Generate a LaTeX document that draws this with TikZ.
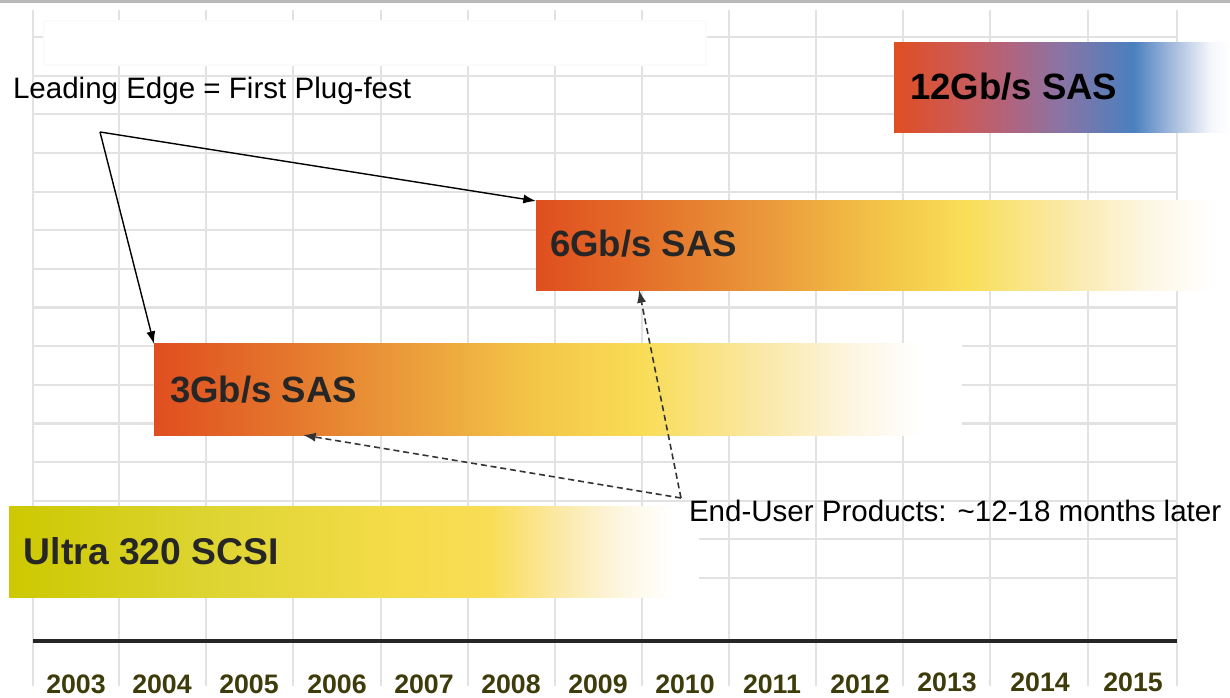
\documentclass[tikz,border=0pt]{standalone}
\usepackage{fontspec}
\setmainfont{Liberation Sans}
\usetikzlibrary{arrows.meta}

\definecolor{gridgray}{HTML}{E2E2E2}
\definecolor{topgray}{HTML}{B9B9B9}
\definecolor{yeartext}{HTML}{3F3C0C}
\definecolor{labeltext}{HTML}{262626}

% colour ramps of the bars (the bar spans 25bp..75bp)
\pgfdeclarehorizontalshading{twelvegb}{100bp}{color(0bp)=(rgb,255:red,224;green,78;blue,34);
  color(25bp)=(rgb,255:red,224;green,78;blue,34); color(34.8bp)=(rgb,255:red,204;green,90;blue,85);
  color(42.3bp)=(rgb,255:red,176;green,100;blue,126); color(49.7bp)=(rgb,255:red,138;green,116;blue,164);
  color(60.6bp)=(rgb,255:red,74;green,128;blue,191); color(66.1bp)=(rgb,255:red,160;green,184;blue,220);
  color(72bp)=(rgb,255:red,244;green,246;blue,251); color(75bp)=(white); color(100bp)=(white)}
\pgfdeclarehorizontalshading{sixgb}{100bp}{color(0bp)=(rgb,255:red,224;green,78;blue,31);
  color(25bp)=(rgb,255:red,224;green,78;blue,31); color(33.2bp)=(rgb,255:red,228;green,114;blue,42);
  color(41.1bp)=(rgb,255:red,234;green,150;blue,58); color(49.8bp)=(rgb,255:red,243;green,196;blue,71);
  color(56bp)=(rgb,255:red,249;green,222;blue,88); color(63bp)=(rgb,255:red,250;green,233;blue,166);
  color(69bp)=(rgb,255:red,253;green,246;blue,226); color(73.5bp)=(white); color(100bp)=(white)}
\pgfdeclarehorizontalshading{threegb}{100bp}{color(0bp)=(rgb,255:red,224;green,78;blue,31);
  color(25bp)=(rgb,255:red,224;green,78;blue,31); color(34bp)=(rgb,255:red,229;green,122;blue,46);
  color(41.5bp)=(rgb,255:red,236;green,160;blue,60); color(48.2bp)=(rgb,255:red,243;green,196;blue,71);
  color(55.1bp)=(rgb,255:red,249;green,220;blue,86); color(62.6bp)=(rgb,255:red,250;green,232;blue,166);
  color(68.1bp)=(rgb,255:red,253;green,245;blue,224); color(72.5bp)=(white); color(100bp)=(white)}
\pgfdeclarehorizontalshading{ultra}{100bp}{color(0bp)=(rgb,255:red,205;green,200;blue,0);
  color(25bp)=(rgb,255:red,205;green,200;blue,0); color(38.9bp)=(rgb,255:red,220;green,212;blue,48);
  color(53.4bp)=(rgb,255:red,245;green,220;blue,74); color(59.9bp)=(rgb,255:red,249;green,221;blue,85);
  color(65bp)=(rgb,255:red,251;green,233;blue,168); color(69.3bp)=(rgb,255:red,253;green,246;blue,224);
  color(73bp)=(white); color(100bp)=(white)}

\begin{document}
\begin{tikzpicture}[x=0.01cm,y=-0.01cm]
\tikzstyle{every node}+=[inner sep=0pt,outer sep=0pt]
\tikzstyle{gridline}=[gridgray,line width=0.6pt]
\tikzstyle{bar}=[anchor=north west,shade,draw=none]
\tikzstyle{bartext}=[anchor=base west,labeltext,font=\fontsize{10.4}{12}\bfseries\selectfont]
\tikzstyle{note}=[anchor=base west,black,font=\fontsize{8.4}{10}\selectfont]
\tikzstyle{year}=[anchor=base,yeartext,font=\fontsize{7.6}{9}\bfseries\selectfont]
\tikzstyle{lead}=[black,line width=0.4pt,-{Latex[length=3.6pt,width=2.6pt]}]
\tikzstyle{later}=[black!80,line width=0.45pt,dash pattern=on 1.7pt off 1.1pt,-{Latex[length=3.6pt,width=2.6pt]}]
\useasboundingbox (0,0) rectangle (1230,698);
\fill [white] (0,0) rectangle (1230,698);
\fill [topgray] (0,0) rectangle (1230,3);
% grid
\foreach \x in {33,119,206,293,381,468,555,642,729,816,903,990,1088,1177}
  \draw [gridline] (\x,10) -- (\x,686);
\foreach \k in {0,...,14}
  \draw [gridline] (33,37+38.65*\k) -- (1177,37+38.65*\k);
\fill [white] (44,21) rectangle (706,65);
\draw [gridgray!15,line width=0.3pt] (44,21) rectangle (706,65);
% bars
\node [bar,shading=twelvegb,minimum width=3.36cm,minimum height=0.89cm] (sas12) at (894,43) {};
\node [bar,shading=sixgb,minimum width=6.94cm,minimum height=0.89cm] (sas6) at (536,201) {};
\node [bar,shading=threegb,minimum width=8.07cm,minimum height=0.91cm] (sas3) at (154,344) {};
\node [bar,shading=ultra,minimum width=6.89cm,minimum height=0.90cm] (scsi) at (9,507) {};
\node [bartext,black] (sas12txt) at (910,100) {12Gb/s SAS};
\node [bartext] (sas6txt) at (550,257) {6Gb/s SAS};
\node [bartext] (sas3txt) at (170,403) {3Gb/s SAS};
\node [bartext,font=\fontsize{10.6}{12}\bfseries\selectfont] (scsitxt) at (24,565) {Ultra 320 SCSI};
% time axis
\draw [black!85,line width=0.9pt] (33,641) -- (1177,641);
\foreach \yr/\x in {2003/76,2004/162,2005/249,2006/337,2007/424,2008/511,2009/598,2010/685,2011/772,2012/860}
  \node [year] (y\yr) at (\x,694) {\yr};
\foreach \yr/\x in {2013/947,2014/1040,2015/1133}
  \node [year] (y\yr) at (\x,692) {\yr};
% notes and arrows
\node [note] (leading) at (13,99) {Leading Edge = First Plug-fest};
\node [note] (enduser) at (689,522) {End-User Products: \symbol{"7E}12-18 months later};
\coordinate (apex) at (100,132);
\coordinate (bend) at (681,498);
\draw [lead] (apex) -- (sas6.north west);
\draw [lead] (apex) -- (sas3.north west);
\draw [later] (bend) -- ([xshift=1.49cm]sas3.south west);
\draw [later] (bend) -- ([xshift=1.03cm]sas6.south west);
\end{tikzpicture}
\end{document}
